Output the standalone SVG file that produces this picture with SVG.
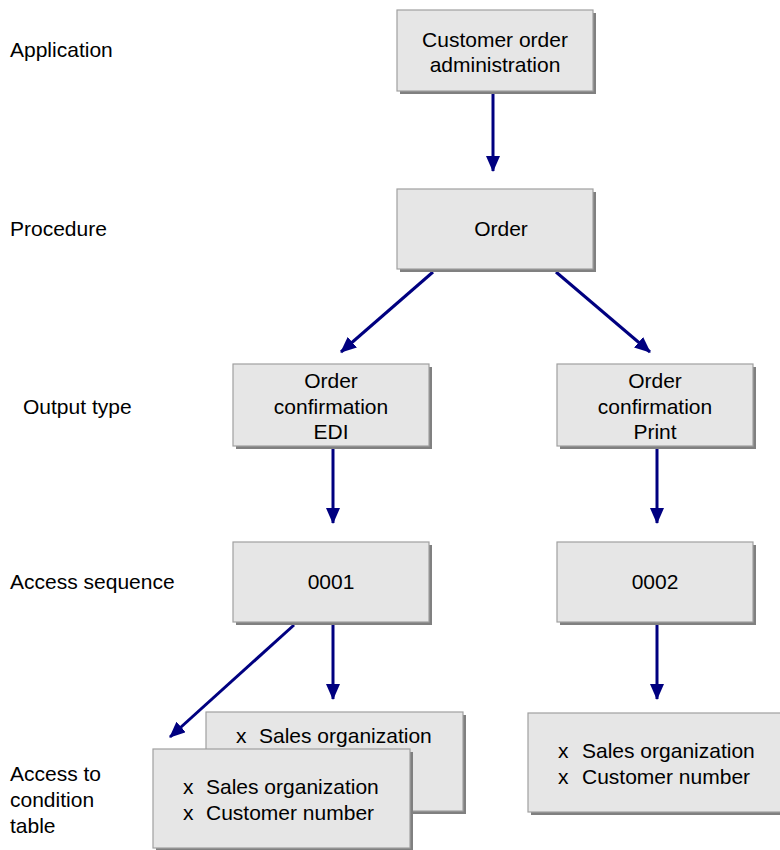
<svg xmlns="http://www.w3.org/2000/svg" width="780" height="850" viewBox="0 0 780 850">
<style>
text{font-family:"Liberation Sans",Arial,sans-serif;font-size:21px;fill:#000}
.c{text-anchor:middle}
.box{fill:#e6e6e6;stroke:#a0a0a0;stroke-width:1.2}
.sh{fill:#808080}
.arr{stroke:#000080;stroke-width:3;fill:none;marker-end:url(#ah)}
</style>
<defs>
<marker id="ah" markerUnits="userSpaceOnUse" markerWidth="16" markerHeight="14" refX="15" refY="7" orient="auto">
<path d="M0,0 L16,7 L0,14 z" fill="#000080"/>
</marker>
</defs>
<rect width="780" height="850" fill="#fff"/>
<g id="labels">
<text x="10" y="57">Application</text>
<text x="10" y="236">Procedure</text>
<text x="23" y="414">Output type</text>
<text x="10" y="589">Access sequence</text>
<text x="10" y="781">Access to</text>
<text x="10" y="807">condition</text>
<text x="10" y="833">table</text>
</g>
<g id="connectors">
<line class="arr" x1="493" y1="92" x2="493" y2="171"/>
<line class="arr" x1="433" y1="272" x2="341" y2="352"/>
<line class="arr" x1="556" y1="272" x2="650" y2="352"/>
<line class="arr" x1="333" y1="447" x2="333" y2="523"/>
<line class="arr" x1="657" y1="447" x2="657" y2="523"/>
<line class="arr" x1="294" y1="625" x2="170" y2="737"/>
<line class="arr" x1="333" y1="623" x2="333" y2="699"/>
<line class="arr" x1="657" y1="623" x2="657" y2="699"/>
</g>
<g id="n_app">
<rect class="sh" x="400" y="13" width="196" height="81"/>
<rect class="box" x="397" y="10" width="196" height="81"/>
<text class="c" x="495" y="47">Customer order</text>
<text class="c" x="495" y="72">administration</text>
</g>
<g id="n_order">
<rect class="sh" x="400" y="192" width="196" height="80"/>
<rect class="box" x="397" y="189" width="196" height="80"/>
<text class="c" x="501" y="236">Order</text>
</g>
<g id="n_edi">
<rect class="sh" x="236" y="367" width="196" height="82"/>
<rect class="box" x="233" y="364" width="196" height="82"/>
<text class="c" x="331" y="388">Order</text>
<text class="c" x="331" y="414">confirmation</text>
<text class="c" x="331" y="439">EDI</text>
</g>
<g id="n_print">
<rect class="sh" x="560" y="367" width="196" height="82"/>
<rect class="box" x="557" y="364" width="196" height="82"/>
<text class="c" x="655" y="388">Order</text>
<text class="c" x="655" y="414">confirmation</text>
<text class="c" x="655" y="439">Print</text>
</g>
<g id="n_0001">
<rect class="sh" x="236" y="545" width="196" height="80"/>
<rect class="box" x="233" y="542" width="196" height="80"/>
<text class="c" x="331" y="589">0001</text>
</g>
<g id="n_0002">
<rect class="sh" x="560" y="545" width="196" height="80"/>
<rect class="box" x="557" y="542" width="196" height="80"/>
<text class="c" x="655" y="589">0002</text>
</g>
<g id="n_cond_back">
<rect class="sh" x="209" y="715" width="257" height="99"/>
<rect class="box" x="206" y="712" width="257" height="99"/>
<text x="236" y="743">x</text>
<text x="259" y="743">Sales organization</text>
</g>
<g id="n_cond_front">
<rect class="sh" x="156" y="752" width="257" height="99"/>
<rect class="box" x="153" y="749" width="257" height="99"/>
<text x="183" y="794">x</text>
<text x="206" y="794">Sales organization</text>
<text x="183" y="820">x</text>
<text x="206" y="820">Customer number</text>
</g>
<g id="n_cond_right">
<rect class="sh" x="531" y="716" width="257" height="99"/>
<rect class="box" x="528" y="713" width="257" height="99"/>
<text x="558" y="758">x</text>
<text x="582" y="758">Sales organization</text>
<text x="558" y="784">x</text>
<text x="582" y="784">Customer number</text>
</g>
</svg>
